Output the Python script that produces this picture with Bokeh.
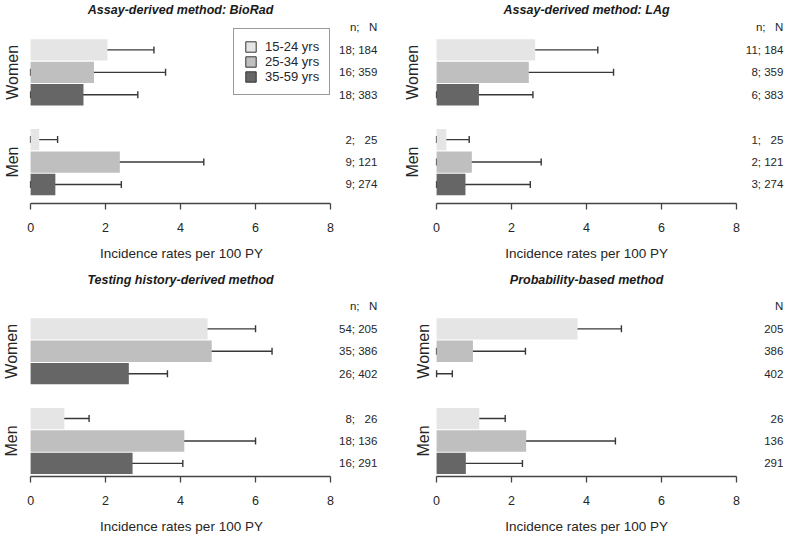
from math import pi, nan
from bokeh.plotting import figure
from bokeh.models import (Range1d, Whisker, TeeHead, ColumnDataSource, Legend,
                          LegendItem)
from bokeh.layouts import gridplot
from bokeh.core.properties import value
from bokeh.embed import file_html
from bokeh.resources import INLINE

# ---------------- data ----------------
sexes = ["Women", "Men"]
age_groups = ["15-24 yrs", "25-34 yrs", "35-59 yrs"]
age_colors = ["#e5e5e5", "#bfbfbf", "#666666"]
x_ticks = [0, 2, 4, 6, 8]
x_title = "Incidence rates per 100 PY"

titles = ["Assay-derived method: BioRad", "Assay-derived method: LAg",
          "Testing history-derived method", "Probability-based method"]

# order: Women 15-24, 25-34, 35-59, Men 15-24, 25-34, 35-59
biorad_rate = [2.05, 1.69, 1.41, 0.23, 2.38, 0.66]
biorad_lo = [0.84, 0.00, 0.00, 0.00, 0.20, 0.00]
biorad_hi = [3.29, 3.60, 2.86, 0.72, 4.62, 2.42]
biorad_n = [18, 16, 18, 2, 9, 9]
biorad_N = [184, 359, 383, 25, 121, 274]

lag_rate = [2.63, 2.46, 1.13, 0.26, 0.94, 0.77]
lag_lo = [0.98, 0.22, 0.00, 0.00, 0.00, 0.00]
lag_hi = [4.30, 4.72, 2.57, 0.87, 2.79, 2.50]
lag_n = [11, 8, 6, 1, 2, 3]
lag_N = [184, 359, 383, 25, 121, 274]

hist_rate = [4.72, 4.83, 2.62, 0.90, 4.10, 2.72]
hist_lo = [3.48, 3.24, 1.63, 0.28, 2.22, 1.40]
hist_hi = [6.00, 6.44, 3.65, 1.56, 6.00, 4.06]
hist_n = [54, 35, 26, 8, 18, 16]
hist_N = [205, 386, 402, 26, 136, 291]

prob_rate = [3.76, 0.97, 0.00, 1.14, 2.39, 0.78]
prob_lo = [2.60, 0.00, 0.00, 0.66, 0.52, 0.09]
prob_hi = [4.93, 2.37, 0.42, 1.83, 4.77, 2.29]
prob_N = [205, 386, 402, 26, 136, 291]

# ---------------- helpers ----------------
NB = "\u00a0"
FONT = value("Liberation Sans")
TXT = "#262626"


def nN_labels(ns, Ns):
    out = []
    for n, N in zip(ns, Ns):
        pad = NB * (1 + 2 * (3 - len(str(N))))
        out.append(f"{n};{pad}{N}")
    return out


def y_positions():
    ys = []
    for s in range(len(sexes)):
        for a in range(len(age_groups)):
            ys.append(8.5 - a - 4 * s)
    return ys


def make_panel(title, rate, lo, hi, labels, header, xr, yr, title_y, min_bb,
               sex_x, label_pad, legend_loc=None):
    p = figure(width=392, height=268, x_range=Range1d(*xr), y_range=Range1d(*yr),
               output_backend="svg", toolbar_location=None, y_axis_location=None,
               title=None, min_border_left=0, min_border_right=0,
               min_border_top=0, min_border_bottom=min_bb)
    p.xgrid.visible = False
    p.ygrid.visible = False
    p.outline_line_color = None
    p.background_fill_color = "white"
    p.border_fill_color = "white"

    ys = y_positions()
    colors = age_colors * len(sexes)
    src = ColumnDataSource(dict(y=ys, rate=rate, lo=lo, hi=hi, color=colors))
    p.hbar(y="y", left=0, right="rate", height=0.95, fill_color="color",
           line_color=None, source=src)

    wcol = "#383838"
    w = Whisker(base="y", lower="lo", upper="hi", dimension="width", source=src,
                line_color=wcol, line_width=1.4,
                upper_head=TeeHead(size=7, line_color=wcol, line_width=1.4),
                lower_head=TeeHead(size=7, line_color=wcol, line_width=1.4))
    p.add_layout(w)

    # right-hand n; N labels
    lab_x = 9.25
    p.text(x=[lab_x] * (len(labels) + 1), y=ys + [9.5], text=labels + [header],
           text_align="right", text_baseline="middle", text_font=FONT,
           text_font_size="11.5px", text_color=TXT)

    # panel title
    p.text(x=[4], y=[title_y], text=[title], text_align="center",
           text_baseline="middle", text_font=FONT, text_font_size="12.5px",
           text_font_style="bold italic", text_color="#1a1a1a")

    # group labels
    centers = [ys[1], ys[4]]
    p.text(x=[sex_x, sex_x], y=centers, text=sexes, angle=pi / 2,
           text_align="center", text_baseline="alphabetic", text_font=FONT,
           text_font_size="16px", text_color=TXT)

    ax = p.xaxis[0]
    ax.bounds = (0, 8)
    ax.ticker = x_ticks
    ax.minor_tick_line_color = None
    ax.major_tick_in = 0
    ax.major_tick_out = 6
    ax.axis_line_color = "#444444"
    ax.axis_line_width = 1.3
    ax.major_tick_line_color = "#444444"
    ax.major_tick_line_width = 1.3
    ax.major_label_standoff = 13
    ax.major_label_text_font = "Liberation Sans"
    ax.major_label_text_font_size = "12.5px"
    ax.major_label_text_color = TXT
    # trailing no-break spaces centre the label under the 0-8 axis span
    ax.axis_label = x_title + NB * label_pad
    ax.axis_label_standoff = 11
    ax.axis_label_text_font = "Liberation Sans"
    ax.axis_label_text_font_size = "13.5px"
    ax.axis_label_text_font_style = "normal"
    ax.axis_label_text_color = TXT

    if legend_loc is not None:
        items = []
        for name, c in zip(age_groups, age_colors):
            r = p.hbar(y=[nan], right=[nan], height=0.9, fill_color=c,
                       line_color="#333333", line_width=1)
            items.append(LegendItem(label=name, renderers=[r]))
        leg = Legend(items=items, location=legend_loc, border_line_color="#333333",
                     border_line_width=1.2, background_fill_color="white",
                     background_fill_alpha=1.0, padding=10, spacing=0,
                     label_height=15, glyph_height=13, glyph_width=13,
                     label_standoff=8, margin=0,
                     label_text_font="Liberation Sans",
                     label_text_font_size="13px", label_text_color=TXT)
        p.add_layout(leg)
    return p


top_y = (1.652, 10.703)
bot_y = (1.917, 11.19)
left_x = (-0.803, 9.653)
right_x = (-1.176, 9.28)

hdr = "n;" + NB * 3 + "N"

p1 = make_panel(titles[0], biorad_rate, biorad_lo, biorad_hi,
                nN_labels(biorad_n, biorad_N), hdr, left_x, top_y, 10.29, 65,
                -0.472, 8, legend_loc=(233, 108))
p2 = make_panel(titles[1], lag_rate, lag_lo, lag_hi,
                nN_labels(lag_n, lag_N), hdr, right_x, top_y, 10.29, 65,
                -0.635, 1)
p3 = make_panel(titles[2], hist_rate, hist_lo, hist_hi,
                nN_labels(hist_n, hist_N), hdr, left_x, bot_y, 10.68, 60,
                -0.497, 8)
p4 = make_panel(titles[3], prob_rate, prob_lo, prob_hi,
                [str(N) for N in prob_N], "N", right_x, bot_y, 10.68, 60,
                -0.347, 1)

layout = gridplot([[p1, p2], [p3, p4]], toolbar_location=None)

open("out.html", "w").write(file_html(layout, INLINE))
